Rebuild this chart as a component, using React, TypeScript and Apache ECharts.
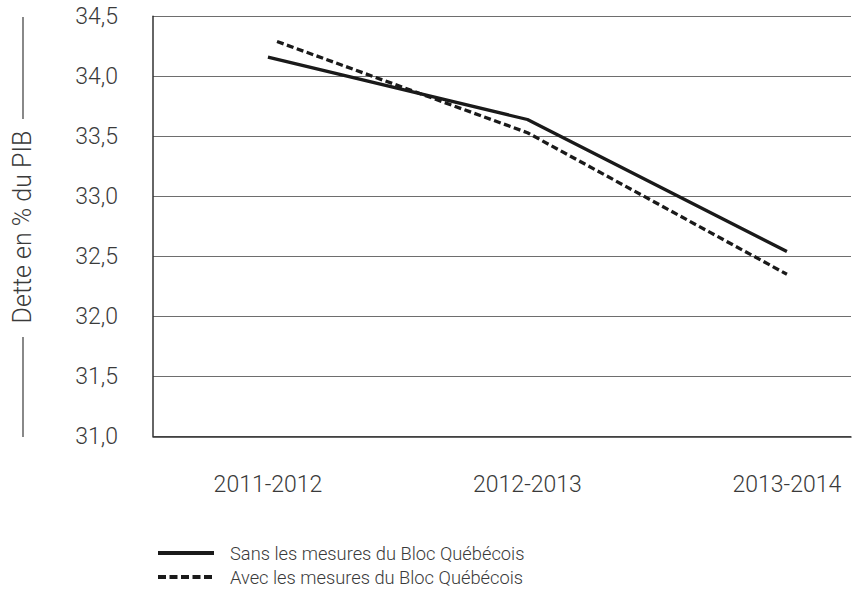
import React, { useEffect, useRef } from "react";
import * as echarts from "echarts";

const categories = ["2011-2012", "2012-2013", "2013-2014"];
const seriesNames = ["Sans les mesures du Bloc Québécois", "Avec les mesures du Bloc Québécois"];
const sansX = [0, 1, 2];
const sansValues = [34.16, 33.64, 32.54];
const avecX = [0.035, 1, 2];
const avecValues = [34.29, 33.53, 32.35];
const yTicks = [31.0, 31.5, 32.0, 32.5, 33.0, 33.5, 34.0, 34.5];
const yTitle = "Dette en % du PIB";

const FONT = "Roboto";
const TEXT = "#3a3a3a";

export default function App() {
  const ref = useRef<HTMLDivElement>(null);
  useEffect(() => {
    if (!ref.current) return;
    const chart = echarts.init(ref.current, undefined, { renderer: "svg" });
    chart.setOption({
      animation: false,
      backgroundColor: "#ffffff",
      textStyle: { fontFamily: FONT },
      grid: { left: 153, right: 14, top: 16.3, bottom: 172.7, containLabel: false },
      xAxis: {
        type: "value",
        min: -0.443,
        max: 2.247,
        splitLine: { show: false },
        axisTick: { show: false },
        axisLine: { show: true, onZero: false, lineStyle: { color: "#333333", width: 1.5 } },
        axisLabel: {
          customValues: [0, 1, 2],
          formatter: (v: number) => categories[Math.round(v)] ?? "",
          color: TEXT,
          fontSize: 23,
          fontWeight: 300,
          fontFamily: FONT,
          margin: 37,
          lineHeight: 23,
        },
      },
      yAxis: {
        type: "value",
        min: yTicks[0],
        max: yTicks[yTicks.length - 1],
        interval: 0.5,
        axisLine: { show: true, onZero: false, lineStyle: { color: "#333333", width: 1.5 } },
        axisTick: { show: false },
        splitLine: { show: true, lineStyle: { color: "#6e6e6e", width: 1.2 } },
        axisLabel: {
          formatter: (v: number) => v.toFixed(1).replace(".", ","),
          color: TEXT,
          fontSize: 23,
          fontWeight: 300,
          fontFamily: FONT,
          margin: 35,
        },
      },
      legend: {
        orient: "vertical",
        left: 151,
        top: 539,
        itemWidth: 56,
        itemHeight: 14,
        itemGap: 6,
        itemStyle: { opacity: 0 },
        textStyle: { color: TEXT, fontSize: 18.3, fontWeight: 300, fontFamily: FONT, padding: [0, 0, 0, 11] },
        data: [
          { name: seriesNames[0], lineStyle: { width: 4, type: "solid" } },
          { name: seriesNames[1], lineStyle: { width: 4, type: [8, 3.5] } },
        ],
      },
      series: [
        {
          name: seriesNames[0],
          type: "line",
          data: sansX.map((x, i) => [x, sansValues[i]]),
          symbol: "none",
          lineStyle: { color: "#1a1a1a", width: 3.3, type: "solid" },
          itemStyle: { color: "#1a1a1a" },
        },
        {
          name: seriesNames[1],
          type: "line",
          data: avecX.map((x, i) => [x, avecValues[i]]),
          symbol: "none",
          lineStyle: { color: "#1a1a1a", width: 3.3, type: [7, 3.5] },
          itemStyle: { color: "#1a1a1a" },
        },
      ],
      graphic: [
        {
          type: "text",
          x: 22,
          y: 227,
          rotation: Math.PI / 2,
          style: {
            text: yTitle,
            fill: TEXT,
            font: `300 25px ${FONT}`,
            align: "center",
            verticalAlign: "middle",
          },
        },
        { type: "line", shape: { x1: 23, y1: 17, x2: 23, y2: 119 }, style: { stroke: "#3a3a3a", lineWidth: 1.2 } },
        { type: "line", shape: { x1: 23, y1: 337, x2: 23, y2: 437 }, style: { stroke: "#3a3a3a", lineWidth: 1.2 } },
      ],
    });
    return () => chart.dispose();
  }, []);
  return <div ref={ref} style={{ width: 865, height: 609, position: "absolute", left: 0, top: 0 }} />;
}
